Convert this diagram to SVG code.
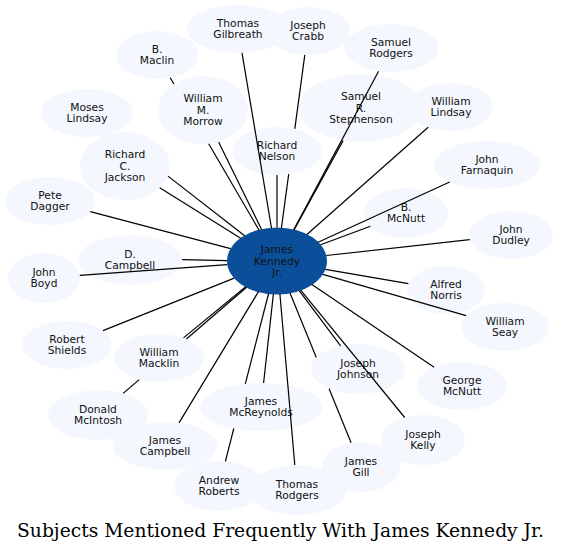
<svg xmlns="http://www.w3.org/2000/svg" width="561" height="552" viewBox="0 0 561 552">
<style>
.n ellipse{fill:#f4f8fe;stroke:none}
.c ellipse{fill:#0b4f9b;stroke:none}
text{font-family:"DejaVu Sans","Liberation Sans",sans-serif;font-size:10.7px;text-anchor:middle;fill:#111}
.t{font-family:"DejaVu Serif","Liberation Serif",serif;font-size:18.7px;fill:#000}
#edges line{stroke:#000;stroke-width:1.2;fill:none}
</style>
<rect width="561" height="552" fill="#fff"/>
<g id="nodes">
<g id="n-gilbreath" class="n"><ellipse cx="238" cy="29" rx="51" ry="24"/><text x="238" y="26.7">Thomas</text><text x="238" y="38.3">Gilbreath</text></g>
<g id="n-crabb" class="n"><ellipse cx="308" cy="31" rx="42" ry="24"/><text x="308" y="28.7">Joseph</text><text x="308" y="40.3">Crabb</text></g>
<g id="n-srodgers" class="n"><ellipse cx="391" cy="48" rx="47" ry="24"/><text x="391" y="45.7">Samuel</text><text x="391" y="57.3">Rodgers</text></g>
<g id="n-maclin" class="n"><ellipse cx="157" cy="55" rx="41" ry="24"/><text x="157" y="52.7">B.</text><text x="157" y="64.3">Maclin</text></g>
<g id="n-morrow" class="n"><ellipse cx="203" cy="110" rx="45" ry="34"/><text x="203" y="101.9">William</text><text x="203" y="113.5">M.</text><text x="203" y="125.1">Morrow</text></g>
<g id="n-mlindsay" class="n"><ellipse cx="87" cy="113" rx="46" ry="24"/><text x="87" y="110.7">Moses</text><text x="87" y="122.3">Lindsay</text></g>
<g id="n-jackson" class="n"><ellipse cx="125" cy="166" rx="45" ry="34"/><text x="125" y="157.9">Richard</text><text x="125" y="169.5">C.</text><text x="125" y="181.1">Jackson</text></g>
<g id="n-nelson" class="n"><ellipse cx="277" cy="151" rx="45" ry="24"/><text x="277" y="148.7">Richard</text><text x="277" y="160.3">Nelson</text></g>
<g id="n-stephenson" class="n"><ellipse cx="361" cy="108" rx="62" ry="34"/><text x="361" y="99.9">Samuel</text><text x="361" y="111.5">R.</text><text x="361" y="123.1">Stephenson</text></g>
<g id="n-wlindsay" class="n"><ellipse cx="451" cy="107" rx="42" ry="24"/><text x="451" y="104.7">William</text><text x="451" y="116.3">Lindsay</text></g>
<g id="n-farnaquin" class="n"><ellipse cx="487" cy="165" rx="53" ry="24"/><text x="487" y="162.7">John</text><text x="487" y="174.3">Farnaquin</text></g>
<g id="n-bmcnutt" class="n"><ellipse cx="406" cy="213" rx="42" ry="25"/><text x="406" y="210.7">B.</text><text x="406" y="222.3">McNutt</text></g>
<g id="n-dudley" class="n"><ellipse cx="511" cy="235" rx="42" ry="24"/><text x="511" y="232.7">John</text><text x="511" y="244.3">Dudley</text></g>
<g id="n-norris" class="n"><ellipse cx="446" cy="290" rx="39" ry="24"/><text x="446" y="287.7">Alfred</text><text x="446" y="299.3">Norris</text></g>
<g id="n-seay" class="n"><ellipse cx="505" cy="327" rx="44" ry="24"/><text x="505" y="324.7">William</text><text x="505" y="336.3">Seay</text></g>
<g id="n-gmcnutt" class="n"><ellipse cx="462" cy="386" rx="45" ry="24"/><text x="462" y="383.7">George</text><text x="462" y="395.3">McNutt</text></g>
<g id="n-kelly" class="n"><ellipse cx="423" cy="440" rx="42" ry="25"/><text x="423" y="437.7">Joseph</text><text x="423" y="449.3">Kelly</text></g>
<g id="n-gill" class="n"><ellipse cx="361" cy="467" rx="39" ry="25"/><text x="361" y="464.7">James</text><text x="361" y="476.3">Gill</text></g>
<g id="n-johnson" class="n"><ellipse cx="358" cy="369" rx="47" ry="25"/><text x="358" y="366.7">Joseph</text><text x="358" y="378.3">Johnson</text></g>
<g id="n-trodgers" class="n"><ellipse cx="297" cy="490" rx="49" ry="25"/><text x="297" y="487.7">Thomas</text><text x="297" y="499.3">Rodgers</text></g>
<g id="n-mcreynolds" class="n"><ellipse cx="261" cy="407" rx="61" ry="24"/><text x="261" y="404.7">James</text><text x="261" y="416.3">McReynolds</text></g>
<g id="n-roberts" class="n"><ellipse cx="219" cy="486" rx="45" ry="25"/><text x="219" y="483.7">Andrew</text><text x="219" y="495.3">Roberts</text></g>
<g id="n-jcampbell" class="n"><ellipse cx="165" cy="446" rx="52" ry="24"/><text x="165" y="443.7">James</text><text x="165" y="455.3">Campbell</text></g>
<g id="n-mcintosh" class="n"><ellipse cx="98" cy="415" rx="50" ry="25"/><text x="98" y="412.7">Donald</text><text x="98" y="424.3">McIntosh</text></g>
<g id="n-macklin" class="n"><ellipse cx="159" cy="358" rx="45" ry="24"/><text x="159" y="355.7">William</text><text x="159" y="367.3">Macklin</text></g>
<g id="n-shields" class="n"><ellipse cx="67" cy="345" rx="45" ry="24"/><text x="67" y="342.7">Robert</text><text x="67" y="354.3">Shields</text></g>
<g id="n-boyd" class="n"><ellipse cx="44" cy="278" rx="36" ry="25"/><text x="44" y="275.7">John</text><text x="44" y="287.3">Boyd</text></g>
<g id="n-dcampbell" class="n"><ellipse cx="130" cy="260" rx="52" ry="25"/><text x="130" y="257.7">D.</text><text x="130" y="269.3">Campbell</text></g>
<g id="n-dagger" class="n"><ellipse cx="50" cy="201" rx="45" ry="24"/><text x="50" y="198.7">Pete</text><text x="50" y="210.3">Dagger</text></g>
<g id="n-kennedy" class="c"><ellipse cx="277" cy="261" rx="50" ry="33.5"/><text x="277" y="253.2">James</text><text x="277" y="264.8">Kennedy</text><text x="277" y="276.4">Jr.</text></g>
</g>
<g id="edges">
<line x1="271.5" y1="228.2" x2="242.0" y2="52.9"/>
<line x1="281.4" y1="228.1" x2="288.7" y2="174.2"/>
<line x1="294.8" y1="128.9" x2="304.8" y2="54.9"/>
<line x1="293.7" y1="229.9" x2="378.6" y2="71.2"/>
<line x1="259.1" y1="230.2" x2="208.7" y2="143.7"/>
<line x1="173.9" y1="84.0" x2="170.2" y2="77.7"/>
<line x1="261.6" y1="229.6" x2="218.6" y2="141.9"/>
<line x1="244.7" y1="235.8" x2="168.0" y2="176.1"/>
<line x1="240.7" y1="238.3" x2="159.7" y2="187.7"/>
<line x1="277" y1="227.5" x2="277" y2="175"/>
<line x1="294.0" y1="230.0" x2="343.1" y2="140.6"/>
<line x1="306.9" y1="234.5" x2="428.2" y2="127.2"/>
<line x1="318.1" y1="242.2" x2="449.7" y2="182.0"/>
<line x1="320.6" y1="244.8" x2="370.4" y2="226.3"/>
<line x1="326.3" y1="255.5" x2="469.8" y2="239.6"/>
<line x1="325.4" y1="269.3" x2="408.4" y2="283.6"/>
<line x1="322.8" y1="274.3" x2="466.1" y2="315.7"/>
<line x1="311.9" y1="284.6" x2="434.1" y2="367.2"/>
<line x1="300.7" y1="290.1" x2="404.7" y2="417.5"/>
<line x1="290.0" y1="292.9" x2="316.3" y2="357.4"/>
<line x1="329.1" y1="388.7" x2="351.1" y2="442.8"/>
<line x1="299.2" y1="290.6" x2="340.6" y2="345.8"/>
<line x1="279.9" y1="293.9" x2="294.8" y2="465.0"/>
<line x1="273.4" y1="293.9" x2="263.6" y2="383.0"/>
<line x1="268.6" y1="293.5" x2="245.3" y2="383.8"/>
<line x1="233.8" y1="428.5" x2="225.4" y2="461.3"/>
<line x1="258.5" y1="291.6" x2="179.0" y2="422.9"/>
<line x1="246.6" y1="287.2" x2="186.4" y2="339.0"/>
<line x1="139.2" y1="379.6" x2="123.1" y2="393.4"/>
<line x1="245.7" y1="286.7" x2="183.5" y2="337.9"/>
<line x1="234.2" y1="278.1" x2="103.0" y2="330.6"/>
<line x1="227.3" y1="264.6" x2="79.8" y2="275.4"/>
<line x1="227.0" y1="260.7" x2="182.0" y2="259.6"/>
<line x1="230.6" y1="248.7" x2="90.3" y2="211.7"/>
</g>
<text class="t" x="280.5" y="536.5">Subjects Mentioned Frequently With James Kennedy Jr.</text>
</svg>
